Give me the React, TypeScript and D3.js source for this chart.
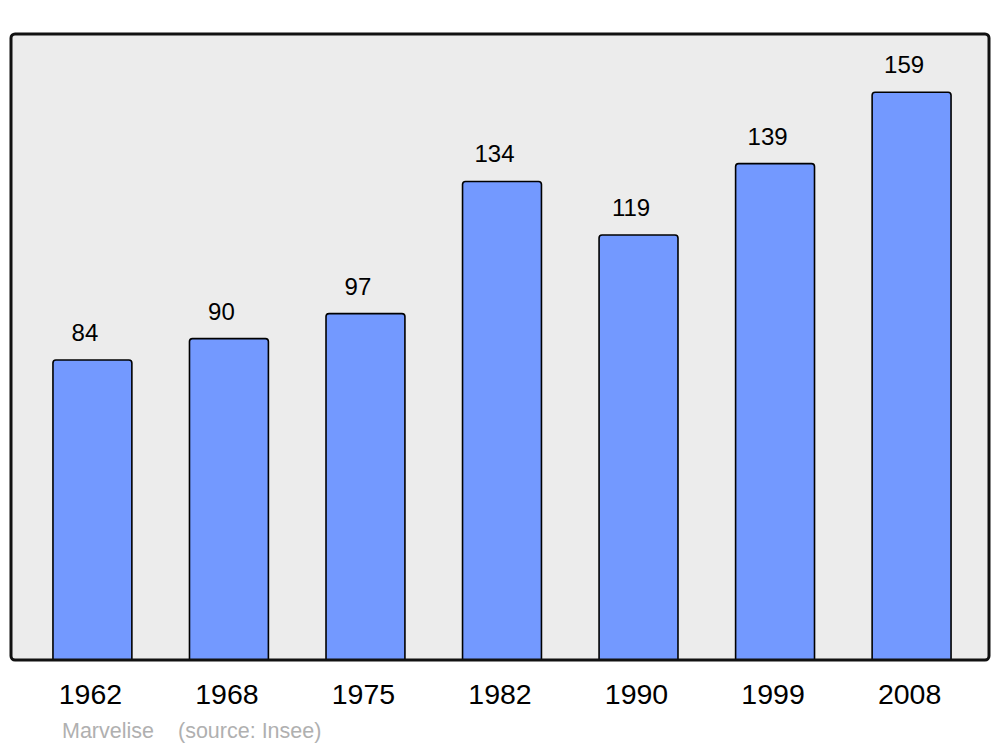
import React from "react";
import * as d3 from "d3";

const years: string[] = ["1962", "1968", "1975", "1982", "1990", "1999", "2008"];
const population: number[] = [84, 90, 97, 134, 119, 139, 159];
const sourceLeft = "Marvelise";
const sourceRight = "(source: Insee)";

const W = 1000;
const H = 747;
const FONT = "'Liberation Sans', Arial, Helvetica, sans-serif";

function topRoundedRect(x: number, y: number, w: number, h: number, r: number): string {
  const p = d3.path();
  p.moveTo(x, y + h);
  p.lineTo(x, y + r);
  p.quadraticCurveTo(x, y, x + r, y);
  p.lineTo(x + w - r, y);
  p.quadraticCurveTo(x + w, y, x + w, y + r);
  p.lineTo(x + w, y + h);
  p.closePath();
  return p.toString();
}

export default function App() {
  const panel = { x0: 11, y0: 34, x1: 989, y1: 660 };
  const x = d3
    .scaleBand<string>()
    .domain(years)
    .range([12, 992])
    .paddingInner(0.422)
    .paddingOuter(0.3);
  const y = d3.scaleLinear().domain([0, 175.3]).range([panel.y1, panel.y0]);
  const bw = x.bandwidth();

  return (
    <svg
      width={W}
      height={H}
      viewBox={`0 0 ${W} ${H}`}
      style={{ position: "absolute", left: 0, top: 0, background: "#ffffff" }}
    >
      <rect
        x={panel.x0}
        y={panel.y0}
        width={panel.x1 - panel.x0}
        height={panel.y1 - panel.y0}
        rx={4}
        ry={4}
        fill="#ececec"
        stroke="none"
      />
      {years.map((yr, i) => {
        const bx = x(yr)!;
        const by = y(population[i]);
        return (
          <g key={yr}>
            <path
              d={topRoundedRect(bx, by, bw, y(0) - by, 3)}
              fill="#7399ff"
              stroke="#000000"
              strokeWidth={1.6}
              strokeLinejoin="round"
            />
            <text
              x={bx + bw / 2 - 7.5}
              y={by - 19}
              textAnchor="middle"
              fontFamily={FONT}
              fontSize={24}
              fill="#000000"
            >
              {population[i]}
            </text>
            <text
              x={bx + bw / 2 - 2}
              y={704}
              textAnchor="middle"
              fontFamily={FONT}
              fontSize={28.5}
              fill="#000000"
            >
              {yr}
            </text>
          </g>
        );
      })}
      <rect
        x={panel.x0}
        y={panel.y0}
        width={panel.x1 - panel.x0}
        height={panel.y1 - panel.y0}
        rx={4}
        ry={4}
        fill="none"
        stroke="#111111"
        strokeWidth={3}
      />
      <text x={62} y={737.5} fontFamily={FONT} fontSize={21.5} fill="#b0b0b0">
        {sourceLeft}
      </text>
      <text x={178} y={737.5} fontFamily={FONT} fontSize={21.5} fill="#b0b0b0">
        {sourceRight}
      </text>
    </svg>
  );
}
